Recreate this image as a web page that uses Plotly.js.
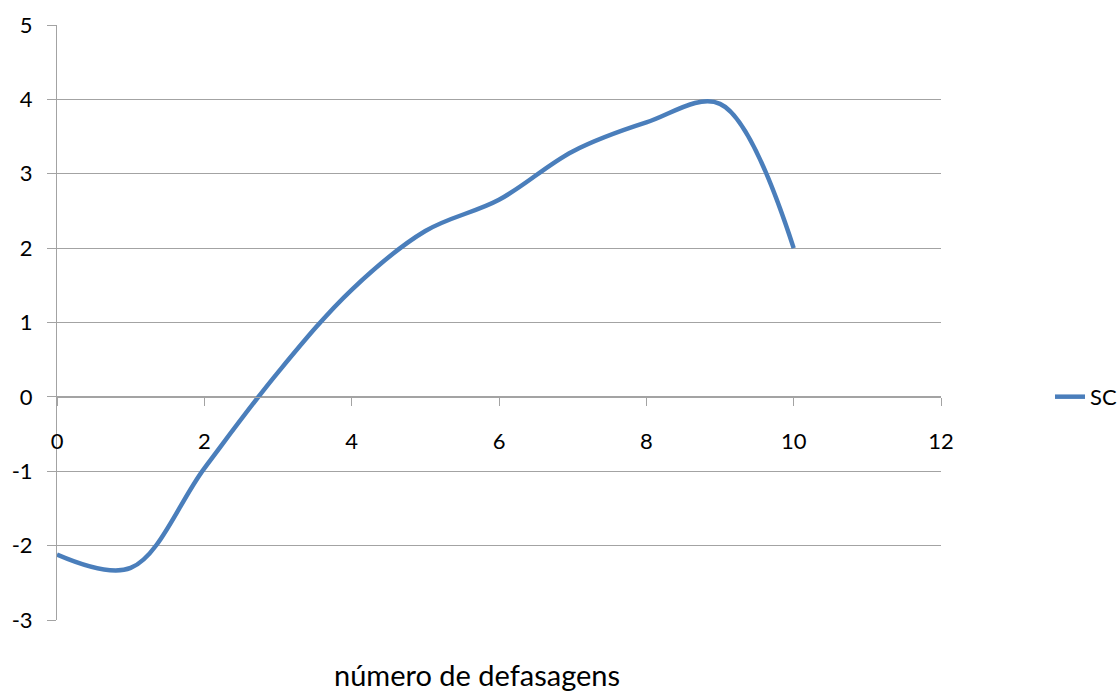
<!DOCTYPE html>
<html>
<head>
<meta charset="utf-8">
<script src="https://cdn.plot.ly/plotly-3.0.1.min.js"></script>
<style>
  html, body { margin: 0; padding: 0; background: #fff; }
  #chart { width: 1118px; height: 693px; }
</style>
</head>
<body>
<div id="chart"></div>
<script>
// Lag number and the SC series
const lags = [0, 1, 2, 3, 4, 5, 6, 7, 8, 9, 10];
const sc = [-2.12, -2.30, -0.96, 0.33, 1.44, 2.23, 2.65, 3.30, 3.69, 3.94, 2.0];

// Axis ticks
const xTicks = [0, 2, 4, 6, 8, 10, 12];
const yTicks = [-3, -2, -1, 0, 1, 2, 3, 4, 5];

const seriesName = 'SC';
const xTitle = 'número de defasagens';

const gridGray = '#a3a3a3';
const font = 'Lato, "Open Sans", sans-serif';

const trace = {
  x: lags,
  y: sc,
  type: 'scatter',
  mode: 'lines',
  name: seriesName,
  line: { color: '#4a7ebb', width: 4.5, shape: 'spline', smoothing: 1 }
};

const layout = {
  width: 1118,
  height: 693,
  margin: { l: 57, r: 177, t: 25, b: 73, pad: 0, autoexpand: false },
  paper_bgcolor: '#fff',
  plot_bgcolor: '#fff',
  font: { family: font, size: 22, color: '#000' },
  showlegend: true,
  legend: {
    xref: 'container', yref: 'paper',
    x: 1050 / 1118, xanchor: 'left',
    y: 0.375, yanchor: 'middle',
    bgcolor: 'rgba(0,0,0,0)',
    font: { family: font, size: 22, color: '#000' },
    itemwidth: 30
  },
  xaxis: {
    range: [0, 12],
    tickvals: xTicks,
    ticktext: xTicks.map(String),
    anchor: 'free',
    position: 0.375,
    showline: true,
    linecolor: gridGray,
    linewidth: 1,
    ticks: 'outside',
    ticklen: 8,
    tickcolor: gridGray,
    showgrid: false,
    zeroline: false,
    ticklabelstandoff: 17,
    tickfont: { family: font, size: 22, color: '#000' }
  },
  yaxis: {
    range: [-3, 5],
    tickvals: yTicks,
    ticktext: yTicks.map(String),
    showline: true,
    linecolor: gridGray,
    linewidth: 1,
    ticks: 'outside',
    ticklen: 9,
    tickcolor: gridGray,
    showgrid: true,
    gridcolor: gridGray,
    gridwidth: 1,
    zeroline: false,
    ticklabelstandoff: 10,
    tickfont: { family: font, size: 22, color: '#000' }
  },
  annotations: [{
    text: xTitle,
    xref: 'paper', yref: 'paper',
    x: (477 - 57) / (1118 - 57 - 177),
    y: -0.0924,
    xanchor: 'center', yanchor: 'middle',
    showarrow: false,
    font: { family: font, size: 29, color: '#000' }
  }]
};

Plotly.newPlot('chart', [trace], layout, { staticPlot: true, displayModeBar: false });
</script>
</body>
</html>
